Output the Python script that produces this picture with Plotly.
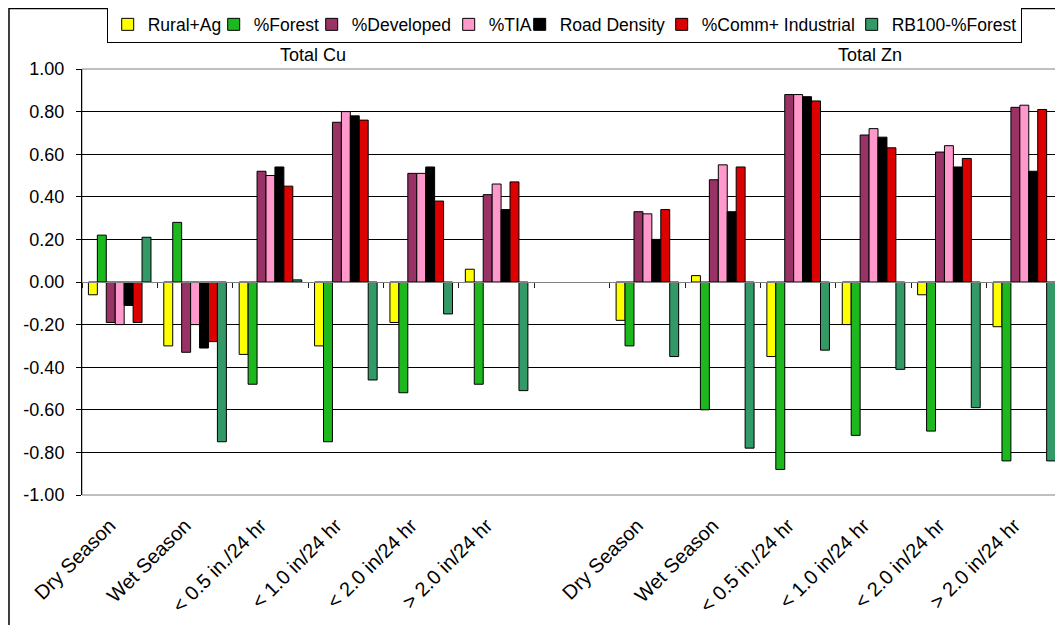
import plotly.graph_objects as go

categories = ["Dry Season", "Wet Season", "< 0.5 in./24 hr", "< 1.0 in/24 hr", "< 2.0 in/24 hr", "> 2.0 in/24 hr", "",
              "Dry Season", "Wet Season", "< 0.5 in./24 hr", "< 1.0 in/24 hr", "< 2.0 in/24 hr", "> 2.0 in/24 hr"]

rural_ag = [-0.06, -0.30, -0.34, -0.30, -0.19, 0.06, None, -0.18, 0.03, -0.35, -0.20, -0.06, -0.21]
forest = [0.22, 0.28, -0.48, -0.75, -0.52, -0.48, None, -0.30, -0.60, -0.88, -0.72, -0.70, -0.84]
developed = [-0.19, -0.33, 0.52, 0.75, 0.51, 0.41, None, 0.33, 0.48, 0.88, 0.69, 0.61, 0.82]
tia = [-0.20, -0.20, 0.50, 0.80, 0.51, 0.46, None, 0.32, 0.55, 0.88, 0.72, 0.64, 0.83]
road_density = [-0.11, -0.31, 0.54, 0.78, 0.54, 0.34, None, 0.20, 0.33, 0.87, 0.68, 0.54, 0.52]
comm_ind = [-0.19, -0.28, 0.45, 0.76, 0.38, 0.47, None, 0.34, 0.54, 0.85, 0.63, 0.58, 0.81]
rb100_forest = [0.21, -0.75, 0.01, -0.46, -0.15, -0.51, None, -0.35, -0.78, -0.32, -0.41, -0.59, -0.84]

series_names = ["Rural+Ag", "%Forest", "%Developed", "%TIA", "Road Density", "%Comm+ Industrial", "RB100-%Forest"]
series_values = [rural_ag, forest, developed, tia, road_density, comm_ind, rb100_forest]
series_colors = ["#FFFF00", "#1DB81D", "#993366", "#FF99CC", "#000000", "#DD0000", "#339966"]

y_ticks = [-1.0, -0.8, -0.6, -0.4, -0.2, 0.0, 0.2, 0.4, 0.6, 0.8, 1.0]
panel_titles = ["Total Cu", "Total Zn"]

# legend entry widths (px) so the legend packs like the original
legend_entry_px = [61, 53, 92, 26, 97, 145, 124]

x_pos = list(range(len(categories)))
boundaries = [i - 0.5 for i in range(len(categories) + 1)]

FONT = "Liberation Sans, Arial, sans-serif"

fig = go.Figure()
for name, vals, col, lw in zip(series_names, series_values, series_colors, legend_entry_px):
    fig.add_trace(go.Bar(x=x_pos, y=vals, name=name, legendwidth=lw,
                         marker=dict(color=col, line=dict(color="#000000", width=1))))

# invisible carrier trace for the category axis that crosses at zero
fig.add_trace(go.Scatter(x=boundaries, y=[0.0] * len(boundaries), xaxis="x2", mode="markers",
                         marker=dict(opacity=0, size=1), showlegend=False, hoverinfo="skip"))

fig.update_layout(
    width=1055, height=617,
    margin=dict(l=74, r=1, t=61, b=130, autoexpand=False),
    paper_bgcolor="white", plot_bgcolor="white",
    font=dict(family=FONT, size=18, color="#000000"),
    barmode="group", bargap=0.17, bargroupgap=0,
    showlegend=True,
    legend=dict(orientation="h", x=0.0252, xanchor="left", y=1.1045, yanchor="middle",
                bordercolor="#000000", borderwidth=1, bgcolor="white",
                font=dict(family=FONT, size=17.5), itemwidth=30, tracegroupgap=0),
    xaxis=dict(range=[-0.5, len(categories) - 0.5], tickmode="array", tickvals=x_pos, ticktext=categories,
               tickangle=-45, ticks="", showline=False, showgrid=False, zeroline=False,
               ticklabelstandoff=14, ticklabelshift=-10,
               tickfont=dict(family=FONT, size=20)),
    xaxis2=dict(overlaying="x", anchor="free", position=0.5, range=[-0.5, len(categories) - 0.5],
                tickmode="array", tickvals=boundaries, ticks="outside", ticklen=5, tickwidth=1,
                tickcolor="#202020", showticklabels=False, showline=True, linecolor="#808080",
                linewidth=1, showgrid=False, zeroline=False, layer="above traces"),
    yaxis=dict(range=[-1, 1], tickmode="array", tickvals=y_ticks, ticktext=[f"{v:.2f}" for v in y_ticks],
               ticks="outside", ticklen=5, tickcolor="#000000", showline=True, linecolor="#000000",
               linewidth=1, showgrid=True, gridcolor="#000000", gridwidth=1, zeroline=False,
               ticklabelstandoff=8, tickfont=dict(family=FONT, size=18)),
    shapes=[
        dict(type="rect", xref="paper", yref="paper", x0=0, x1=1, y0=0, y1=1,
             line=dict(color="#808080", width=1), layer="below"),
        dict(type="rect", xref="paper", yref="paper", x0=-0.0745, x1=1.2, y0=-0.5, y1=1.1420,
             line=dict(color="#000000", width=1.5), layer="below"),
    ],
    annotations=[
        dict(text=panel_titles[0], xref="paper", yref="paper", x=0.236, y=1.033, xanchor="center",
             yanchor="middle", showarrow=False, font=dict(family=FONT, size=18)),
        dict(text=panel_titles[1], xref="paper", yref="paper", x=0.804, y=1.033, xanchor="center",
             yanchor="middle", showarrow=False, font=dict(family=FONT, size=18)),
    ],
)

fig.write_html("out.html")
